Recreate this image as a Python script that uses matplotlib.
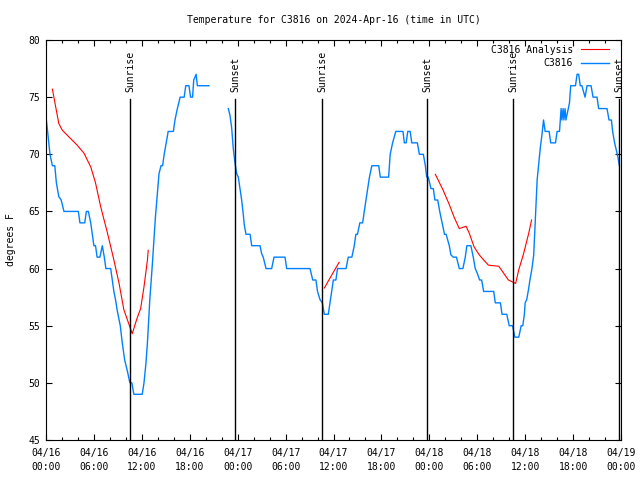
import numpy as np
import pandas as pd
import matplotlib
matplotlib.use('Agg')
import matplotlib.pyplot as plt
import matplotlib.dates as mdates
import matplotlib.transforms as mtransforms

# observed station temperature (hours after 2024-04-16 00:00 UTC, degrees F)
obs_hours = [0.05, 0.35, 0.5, 0.8, 1.1, 1.3, 1.6, 1.9, 2.25, 4.05, 4.25, 4.85, 5.05, 5.3, 5.6, 5.8,
             6.0, 6.2, 6.4, 6.75, 7.05, 7.3, 7.5, 8.1, 8.3, 8.5, 8.7, 8.9, 9.3, 9.55, 9.85, 10.2,
             10.5, 10.75, 11.0, 12.05, 12.27, 12.5, 12.7, 13.0, 13.3, 13.7, 14.15, 14.4, 14.6, 14.8,
             15.0, 15.3, 15.95, 16.15, 16.45, 16.8, 17.3, 17.5, 17.9, 18.1, 18.35, 18.5, 18.8, 18.95,
             20.4, np.nan,
             22.83, 23.04, 23.25, 23.45, 23.67, 23.88, 24.08, 24.29, 24.5, 24.71, 24.83, 25.04, 25.55,
             25.76, 26.8, 27.0, 27.2, 27.55, 28.26, 28.55, 29.93, 30.14, 33.06, 33.4, 33.8, 34.0, 34.3,
             34.6, 34.85, 35.35, 35.56, 35.78, 35.98, 36.3, 36.5, 37.57, 37.85, 38.3, 38.6, 38.8, 39.0,
             39.3, 39.65, 39.85, 40.07, 40.28, 40.5, 40.8, 41.66, 41.86, 42.9, 43.1, 43.4, 43.8, 44.7,
             44.87, 45.1, 45.3, 45.6, 45.8, 46.5, 46.75, 47.25, 47.5, 47.67, 47.87, 48.2, 48.5, 48.7,
             49.05, 49.3, 49.6, 49.9, 50.1, 50.5, 50.7, 51.0, 51.4, 51.75, 52.2, 52.5, 52.7, 53.2, 53.5,
             53.75, 54.0, 54.3, 54.55, 54.8, 56.06, 56.26, 56.9, 57.1, 57.7, 58.0, 58.43, 58.7, 59.2,
             59.5, 59.7, 59.9, 60.0, 60.2, 60.4, 60.6, 60.85, 61.07, 61.27, 61.5, 61.7, 61.9, 62.1, 62.3,
             62.4, 62.5, 63.0, 63.2, 63.8, 64.0, 64.3, 64.5, 64.6, 64.75, 64.85, 65.0, 65.1, 65.4, 65.55,
             65.7, 66.3, 66.5, 66.7, 66.9, 67.1, 67.5, 67.75, 68.25, 68.5, 69.0, 69.2, 70.25, 70.5, 70.8,
             70.95, 71.2, 71.4, 71.6, 71.8]
obs_temp = [73, 71, 70, 69, 69, 67.5, 66.3, 66, 65, 65, 64, 64, 65, 65, 64, 63,
            62, 62, 61, 61, 62, 61, 60, 60, 59, 58, 57.3, 56.4, 55, 53.5, 52, 51,
            50, 50, 49, 49, 50, 51.6, 53.5, 57.3, 60.2, 64.5, 68.3, 69, 69, 70,
            70.8, 72, 72, 73, 74, 75, 75, 76, 76, 75, 75, 76.5, 77, 76,
            76, np.nan,
            74, 73.4, 72.3, 70.5, 69.2, 68.3, 68, 67, 66, 64.7, 63.8, 63, 63,
            62, 62, 61.3, 61, 60, 60, 61, 61, 60, 60, 59, 59, 58, 57.3,
            57, 56, 56, 57, 58, 59, 59, 60, 60, 61, 61, 62, 63, 63,
            64, 64, 65, 66, 67, 68, 69, 69, 68, 68, 70, 71, 72, 72,
            71, 71, 72, 72, 71, 71, 70, 70, 69, 68, 68, 67, 67, 66,
            66, 65, 64, 63, 63, 62, 61.2, 61, 61, 60, 60, 61, 62, 62, 61,
            60, 59.6, 59, 59, 58, 58, 57, 57, 56, 56, 55, 55, 54, 54,
            55, 55, 56, 57, 57.3, 58.1, 59, 60, 61.2, 64.25, 67.75, 69.2, 70.6, 71.7, 73,
            72.5, 72, 72, 71, 71, 72, 72, 74, 73, 74, 73, 74, 73, 74, 74.5,
            76, 76, 77, 77, 76, 76, 75, 76, 76, 75, 75, 74, 74, 73, 73,
            72, 71, 70.4, 69.8, 69]

# analysis temperature
ana_hours = [0.8, 1.2, 1.6, 2.05, 2.9, 3.9, 4.75, 5.6, 6.2, 6.85, 7.7, 8.5, 9.15, 9.75, 10.4,
             10.8, 11.4, 11.85, 12.27, 12.7, 12.8, np.nan,
             34.85, 36.7, np.nan,
             48.75, 49.7, 50.5, 51.1, 51.75, 52.6, 53.0, 53.6, 54.25, 55.0, 55.4, 56.7, 57.3, 57.9,
             58.8, 59.2, 59.8, 60.45, 60.8]
ana_temp = [75.7, 74.2, 72.7, 72.1, 71.5, 70.8, 70.1, 68.9, 67.5, 65.4, 63.1, 60.75, 58.7, 56.4, 55.1,
            54.3, 55.65, 56.5, 58.4, 60.75, 61.6, np.nan,
            58.3, 60.55, np.nan,
            68.25, 66.9, 65.6, 64.5, 63.5, 63.7, 63.1, 61.9, 61.2, 60.6, 60.3, 60.2, 59.6, 59.0,
            58.7, 59.9, 61.3, 63.1, 64.25]

sun_times = ['2024-04-16 10:33', '2024-04-16 23:42', '2024-04-17 10:33',
             '2024-04-17 23:45', '2024-04-18 10:30', '2024-04-18 23:48']
sun_labels = ['Sunrise', 'Sunset', 'Sunrise', 'Sunset', 'Sunrise', 'Sunset']

base = pd.Timestamp('2024-04-16 00:00')
obs_t = base + pd.to_timedelta(np.array(obs_hours, dtype=float), unit='h')
ana_t = base + pd.to_timedelta(np.array(ana_hours, dtype=float), unit='h')

mono = 'DejaVu Sans Mono'
fs = 7
plt.rcParams['font.family'] = mono

fig = plt.figure(figsize=(6.4, 4.8), dpi=100)
ax = fig.add_axes([46 / 640, 40 / 480, 575 / 640, 400 / 480])

l1, = ax.plot(ana_t, ana_temp, color='#ff0000', lw=0.8, label='C3816 Analysis')
l2, = ax.plot(obs_t, obs_temp, color='#0080ff', lw=1.0, label='C3816')

# sunrise / sunset markers
trans = mtransforms.blended_transform_factory(ax.transData, ax.transAxes)
for t, lab in zip(sun_times, sun_labels):
    x = mdates.date2num(pd.Timestamp(t))
    ax.axvline(x, ymin=0, ymax=0.8525, color='black', lw=1.0)
    ax.text(x, 0.87, lab, transform=trans, rotation=90, ha='center', va='bottom',
            fontsize=fs, family=mono)

ax.set_xlim(base, base + pd.Timedelta(hours=72))
ax.set_ylim(45, 80)
ax.set_yticks(np.arange(45, 81, 5))
ax.xaxis.set_major_locator(mdates.HourLocator(byhour=[0, 6, 12, 18]))
ax.xaxis.set_minor_locator(mdates.HourLocator(byhour=range(0, 24, 2)))
ax.xaxis.set_major_formatter(mdates.DateFormatter('%m/%d\n%H:%M'))
ax.tick_params(which='both', direction='in', top=True, right=True, labelsize=fs, width=0.8)
ax.tick_params(which='major', length=4)
ax.tick_params(which='minor', length=2.5)
ax.tick_params(axis='x', pad=6)
ax.tick_params(axis='y', pad=4)
for lab in ax.get_xticklabels():
    lab.set_linespacing(1.5)
for s in ax.spines.values():
    s.set_linewidth(0.8)

ax.set_title('Temperature for C3816 on 2024-Apr-16 (time in UTC)', fontsize=fs, pad=12)
ax.set_ylabel('degrees F', fontsize=fs, labelpad=9)

ax.legend(handles=[l1, l2], loc='upper right', bbox_to_anchor=(0.979, 0.988), frameon=False,
          markerfirst=False, fontsize=fs, handlelength=2.9, handletextpad=0.8,
          borderaxespad=0, borderpad=0, labelspacing=0.35)

fig.savefig('out.png', dpi=100)
